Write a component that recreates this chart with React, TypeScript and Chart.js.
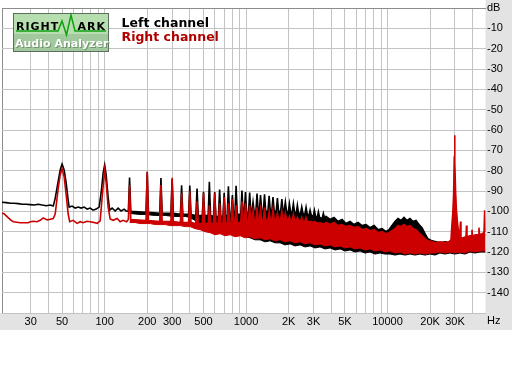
import React, { useEffect, useRef } from "react";
import { Chart, registerables } from "chart.js";

Chart.register(...registerables);

// ---------------- data ----------------
// Low-frequency part of the traces (incl. the broad 50 Hz / 100 Hz hum peaks)
const leftLowFreq = [18.8, 20.1, 21.6, 22.9, 24.5, 26.1, 27.9, 29.8, 31.8, 33.9, 36.2, 38.6, 41.2, 43.3, 44.7, 47.0, 48.5, 50, 51.7, 53.4, 55.2, 56.1, 58.9, 61.9, 65.0, 68.2, 71.6, 75.2, 79.0, 82.9, 87.1, 91.4, 94.5, 97.6, 100, 102.5, 105.8, 108.5, 113, 118.7, 124.5, 130.7, 137.3, 141.8];
const leftLowDb = [-95.5, -95.7, -96.0, -96.0, -96.2, -96.5, -96.5, -96.7, -96.9, -96.5, -96.9, -97.2, -96.9, -97.4, -93.6, -84.9, -79.6, -76.7, -79.6, -85.9, -94.5, -97.9, -97.4, -98.4, -97.9, -98.4, -97.9, -98.9, -98.4, -99.4, -98.9, -97.9, -90.7, -81.0, -77.2, -82.0, -93.1, -99.4, -98.4, -99.8, -98.4, -99.8, -98.9, -99.8];

const rightLowFreq = [18.8, 19.5, 20.5, 21.6, 22.6, 25.3, 28.8, 29.8, 31.3, 33.3, 35.0, 36.8, 39.2, 41.2, 43.3, 44.7, 47.0, 48.5, 50.0, 51.7, 53.4, 55.2, 56.6, 59.9, 63.9, 67.1, 70.5, 75.2, 79.0, 82.9, 88.5, 92.9, 96.0, 100, 102.5, 105.8, 109.4, 114.8, 122.6, 128.7, 135.1, 143.0];
const rightLowDb = [-100.8, -101.3, -102.7, -104.2, -105.1, -105.6, -105.6, -105.1, -104.9, -105.1, -104.4, -103.2, -104.2, -103.9, -103.5, -101.3, -88.3, -82.0, -79.1, -83.0, -91.6, -101.3, -105.1, -104.4, -105.9, -105.1, -105.6, -104.9, -105.1, -105.4, -105.9, -104.7, -93.1, -79.6, -85.9, -97.9, -103.7, -104.4, -103.5, -105.1, -104.4, -105.1];

// Harmonic spikes (150 Hz .. 3.5 kHz)
const spikeFreq = [150, 200, 250, 300, 350, 400, 450, 500, 550, 600, 650, 700, 750, 800, 850, 935, 990, 1060, 1120, 1195, 1265, 1350, 1455, 1550, 1665, 1790, 1895, 2025, 2160, 2305, 2475, 2655, 2835, 3040, 3245, 3520];
const leftSpikeDb = [-83.3, -80.8, -83.6, -84.2, -87.2, -87.3, -88.8, -90.4, -85.4, -90.5, -89.2, -90.8, -87.6, -92, -87.4, -89.8, -90.5, -90.8, -95.4, -91.2, -92, -91.6, -92.3, -93, -93.5, -94, -95.4, -96.2, -96.2, -97, -97.8, -98, -99.4, -99.4, -100.2, -101];
const leftSpikeBaseDb = [-100, -100.5, -101, -101, -101.5, -101.5, -102, -102, -102, -102.5, -102.5, -102.5, -102, -102, -101.5, -101.5, -101, -101, -100.5, -100.5, -100, -100, -100, -100, -100, -100, -100, -100.5, -100.5, -101, -101, -101.5, -102, -102.5, -103, -103.5];
const rightSpikeDb = [-87, -80.4, -87, -83.5, -91, -90, -95, -91, -97, -91, -96, -93, -96, -94, -97, -95, -96, -97, -99.5, -98, -99, -98, -100, -99, -101, -100, -101, -102.5, -101.5, -103, -103, -103, -105, -105, -106, -106];
const rightSpikeBaseDb = [-104, -104.5, -105, -105, -105.5, -105.5, -106, -106, -106, -106, -106, -106, -106, -105.5, -105.5, -105.5, -105, -105, -104.5, -104.5, -104.5, -104.5, -104, -104, -104, -104, -104, -104.5, -104.5, -104.5, -105, -105, -105, -105.5, -105.5, -106];

// High-frequency upper edge of the noise band
const leftHighFreq = [3676, 3924, 4187, 4469, 4770, 5090, 5433, 5799, 6189, 6605, 7049, 7522, 8029, 8569, 9145, 9759, 10247, 10760, 11298, 11863, 12456, 13079, 13733, 14422, 15143, 15900, 16697, 17530, 18408, 19327, 20634, 22024, 23498, 25490, 27650, 29990, 32540, 35300, 38290, 41530, 45060, 49300];
const leftHighDb = [-102.5, -104, -103, -105, -104, -106, -105, -106.5, -105.5, -107, -106.5, -108, -107, -109, -108.5, -110, -109, -107, -105, -103.5, -104.5, -103, -104.5, -103.5, -105, -104.5, -106.5, -108, -111, -113.5, -114.5, -115, -115.5, -115, -115.5, -114.5, -114, -114, -113.5, -113, -112.5, -111.5];

const rightHighFreq = [3676, 3924, 4187, 4469, 4770, 5090, 5433, 5799, 6189, 6605, 7049, 7522, 8029, 8569, 9145, 9759, 10247, 10760, 11298, 11863, 12456, 13079, 13733, 14422, 15143, 15900, 16697, 17530, 18408, 19327, 20634, 22024, 23498, 25490, 27205, 28106, 28568, 28942, 29322, 29609, 29802, 29996, 30290, 30687, 31190, 31754, 32274, 32804, 33072, 34167, 35873, 36166, 36461, 38290, 39245, 39566, 39889, 42222, 43976, 44335, 44698, 46551, 48093, 48644, 49300];
const rightHighDb = [-105.5, -106.5, -105.5, -107, -106.5, -107.5, -107, -108, -107.5, -109, -108.5, -109.5, -109, -110.5, -110, -111, -110.5, -109.5, -108.5, -107, -107.5, -106.5, -107.5, -107, -108.5, -109, -110.5, -112, -113.5, -114.5, -115, -115.5, -115, -115.5, -115, -114, -106, -101, -92, -75, -62.5, -76, -90, -99, -105, -110, -113.5, -105, -113.5, -113, -112.5, -107, -112.5, -112, -112, -109, -112, -111.5, -111.5, -108, -111.5, -111, -110.5, -99.5, -110];

// Lower edge of the noise band (both channels)
const floorFreq = [150, 164, 178, 193, 210, 228, 247, 268, 290, 315, 342, 371, 402, 436, 473, 513, 557, 604, 655, 710, 771, 836, 907, 984, 1067, 1158, 1256, 1362, 1477, 1603, 1739, 1886, 2046, 2220, 2408, 2612, 2834, 3073, 3334, 3616, 3924, 4256, 4617, 5008, 5433, 5893, 6393, 6934, 7522, 8159, 8851, 9601, 10416, 11298, 12256, 13296, 14422, 15643, 16971, 18408, 19970, 21665, 23498, 25490, 27650, 29990, 32540, 35300, 38290, 41530, 45060, 49300];
const leftFloorDb = [-101, -101.3, -101.5, -101.5, -101.8, -102, -102, -102, -102.3, -102.5, -102.5, -102.5, -103, -104.5, -106, -107.5, -108.5, -109.5, -109, -110, -110, -111, -111, -112.5, -113, -114, -114, -115, -114.5, -115.5, -115.5, -116.5, -116, -117, -116.5, -117.5, -117, -118, -117.5, -118.5, -118, -119, -118.5, -119.5, -119, -120, -119.5, -120.5, -120, -121, -120.5, -121, -121, -121.5, -121, -121.5, -121, -121.5, -121, -121.5, -121, -121.5, -120.5, -121, -120.5, -121, -120.5, -121, -120, -120.5, -120, -120];
const rightFloorDb = [-105.5, -105.5, -106, -106, -106, -106.5, -106.5, -106.5, -107, -107, -107, -107.5, -107.5, -108.5, -109, -110, -110.5, -111.5, -111, -112, -111.5, -112.5, -112, -113, -112.5, -113.5, -113, -114, -113.5, -114.5, -114, -115, -114.5, -115.5, -115, -116, -115.5, -116.5, -116, -117, -116.5, -117.5, -117, -118, -117.5, -118.5, -118, -119, -118.5, -119.5, -119, -120, -119.5, -120.5, -120, -121, -120.5, -121, -120.5, -121, -120.5, -120.5, -120, -120.5, -120, -120.5, -120, -120.5, -119.5, -120, -119.5, -119.5];

// Axis ticks
const xGridValues = [18.8, 30, 40, 50, 60, 70, 80, 90, 100, 200, 300, 400, 500, 600, 700, 800, 900, 1000, 2000, 3000, 4000, 5000, 6000, 7000, 8000, 9000, 10000, 20000, 30000, 40000];
const xTickValues = [30, 50, 100, 200, 300, 500, 1000, 2000, 3000, 5000, 10000, 20000, 30000];
const xTickLabels = ["30", "50", "100", "200", "300", "500", "1000", "2K", "3K", "5K", "10000", "20K", "30K"];
const seriesNames = ["Left channel", "Right channel"];

// ---------------- styling ----------------
const X_MIN = 18.8;
const X_MAX = 49300;
const RED = "#cc0000";
const BLACK = "#000000";
const PANEL = "#e3e3e3";
const GRID = "#c3c3c3";
const EDGE = "#8c8c8c";
const AXIS_BAND = 17;
const SPIKE_HALF_WIDTH = 1.02;
const LABEL_FONT = "'Liberation Sans', Arial, sans-serif";

type P = { x: number; y: number };

function pts(fs: number[], ds: number[]): P[] {
  return fs.map((f, i) => ({ x: f, y: ds[i] }));
}

function topTrace(lowF: number[], lowD: number[], peaks: number[], bases: number[], highF: number[], highD: number[]): P[] {
  const out: P[] = pts(lowF, lowD);
  spikeFreq.forEach((f, i) => {
    out.push({ x: f / SPIKE_HALF_WIDTH, y: bases[i] }, { x: f, y: peaks[i] }, { x: f * SPIKE_HALF_WIDTH, y: bases[i] });
  });
  out.push(...pts(highF, highD));
  return out.sort((a, b) => a.x - b.x);
}

const framePlugin = {
  id: "rmaaFrame",
  beforeDraw(chart: any) {
    const { ctx, chartArea: ca, width, height } = chart;
    ctx.save();
    ctx.fillStyle = "#ffffff";
    ctx.fillRect(0, 0, width, height);
    ctx.fillStyle = PANEL;
    ctx.fillRect(ca.right, 0, width - ca.right, ca.bottom + AXIS_BAND);
    ctx.fillRect(0, ca.bottom, width, AXIS_BAND);
    ctx.restore();
  },
  afterDraw(chart: any) {
    const { ctx, chartArea: ca } = chart;
    ctx.save();
    // unit labels
    ctx.font = `11px ${LABEL_FONT}`;
    ctx.fillStyle = "#000";
    ctx.textAlign = "left";
    ctx.textBaseline = "middle";
    ctx.fillText("dB", ca.right + 1.5, 8);
    ctx.fillText("Hz", ca.right + 1.5, ca.bottom + 7.5);

    // logo
    const lx = 13, ly = 13, lw = 96, lh = 39;
    ctx.fillStyle = "#b6deae";
    ctx.fillRect(lx, ly, lw, lh);
    ctx.fillStyle = "#a2c89e";
    ctx.fillRect(lx, ly + 21, lw, lh - 21);
    ctx.strokeStyle = "#5e6e5e";
    ctx.lineWidth = 1;
    ctx.strokeRect(lx + 0.5, ly + 0.5, lw - 1, lh - 1);
    ctx.strokeStyle = "#10a010";
    ctx.lineWidth = 1.5;
    ctx.beginPath();
    ctx.moveTo(lx + 3, 31);
    ctx.lineTo(58, 31);
    ctx.lineTo(62, 21);
    ctx.lineTo(66.5, 35);
    ctx.lineTo(71, 15);
    ctx.lineTo(75, 31);
    ctx.lineTo(lx + lw - 3, 31);
    ctx.stroke();
    ctx.textBaseline = "alphabetic";
    ctx.font = "bold 11px 'DejaVu Sans', sans-serif";
    ctx.fillStyle = "#000";
    (ctx as any).letterSpacing = "1px";
    ctx.fillText("RIGHT", 16, 30);
    ctx.fillText("ARK", 77.5, 30);
    (ctx as any).letterSpacing = "0px";
    ctx.fillStyle = "#6f946c";
    ctx.fillText("Audio Analyzer", 16, 47.5);
    ctx.fillStyle = "#ffffff";
    ctx.fillText("Audio Analyzer", 15, 46.5);

    // legend
    ctx.font = "bold 12.5px 'DejaVu Sans', sans-serif";
    ctx.fillStyle = "#000";
    ctx.fillText(seriesNames[0], 121.5, 26.5);
    ctx.fillStyle = "#b00000";
    ctx.fillText(seriesNames[1], 121.5, 41);
    ctx.restore();
  },
};

export default function App() {
  const ref = useRef<HTMLCanvasElement | null>(null);

  useEffect(() => {
    if (!ref.current) return;
    const leftTop = topTrace(leftLowFreq, leftLowDb, leftSpikeDb, leftSpikeBaseDb, leftHighFreq, leftHighDb);
    const rightTop = topTrace(rightLowFreq, rightLowDb, rightSpikeDb, rightSpikeBaseDb, rightHighFreq, rightHighDb);
    const leftBottom = pts(floorFreq, leftFloorDb);
    const rightBottom = pts(floorFreq, rightFloorDb);

    const chart = new Chart(ref.current, {
      type: "line",
      data: {
        datasets: [
          { label: seriesNames[1], data: rightTop, borderColor: RED, backgroundColor: RED, borderWidth: 1.6, pointRadius: 0, fill: false, tension: 0 },
          { label: seriesNames[1] + " floor", data: rightBottom, borderColor: RED, backgroundColor: RED, borderWidth: 1, pointRadius: 0, fill: "-1", tension: 0 },
          { label: seriesNames[0], data: leftTop, borderColor: BLACK, backgroundColor: BLACK, borderWidth: 1.6, pointRadius: 0, fill: false, tension: 0 },
          { label: seriesNames[0] + " floor", data: leftBottom, borderColor: BLACK, backgroundColor: BLACK, borderWidth: 1, pointRadius: 0, fill: "-1", tension: 0 },
        ],
      } as any,
      options: {
        responsive: false,
        animation: false,
        devicePixelRatio: 1,
        parsing: false,
        events: [],
        layout: { padding: { left: 2, top: 2, right: 0, bottom: 54 } },
        plugins: { legend: { display: false }, tooltip: { enabled: false } },
        scales: {
          x: {
            type: "logarithmic",
            min: X_MIN,
            max: X_MAX,
            position: "bottom",
            afterFit: (s: any) => { s.height = AXIS_BAND; },
            afterBuildTicks: (s: any) => { s.ticks = xGridValues.map((v) => ({ value: v })); },
            grid: {
              color: (c: any) => (c.tick && c.tick.value === X_MIN ? EDGE : GRID),
              lineWidth: 1,
              drawTicks: false,
            },
            border: { display: false },
            ticks: {
              autoSkip: false,
              maxRotation: 0,
              minRotation: 0,
              padding: 2,
              color: "#000",
              font: { family: LABEL_FONT, size: 11 },
              callback: (v: any) => {
                const i = xTickValues.indexOf(Number(v));
                return i >= 0 ? xTickLabels[i] : "";
              },
            },
          },
          y: {
            type: "linear",
            min: -150,
            max: 0,
            position: "right",
            afterFit: (s: any) => { s.width = 26.5; },
            grid: {
              color: (c: any) => (c.tick && c.tick.value === 0 ? EDGE : GRID),
              lineWidth: 1,
              drawTicks: false,
            },
            border: { display: false },
            ticks: {
              stepSize: 10,
              padding: 1.5,
              color: "#000",
              font: { family: LABEL_FONT, size: 11 },
              callback: (v: any) => (v === 0 || v === -150 ? "" : String(v)),
            },
          },
        },
      } as any,
      plugins: [framePlugin as any],
    });
    return () => chart.destroy();
  }, []);

  return (
    <div style={{ position: "fixed", left: 0, top: 0, width: 512, height: 384, background: "#fff" }}>
      <canvas ref={ref} width={512} height={384} style={{ display: "block", width: 512, height: 384 }} />
    </div>
  );
}
